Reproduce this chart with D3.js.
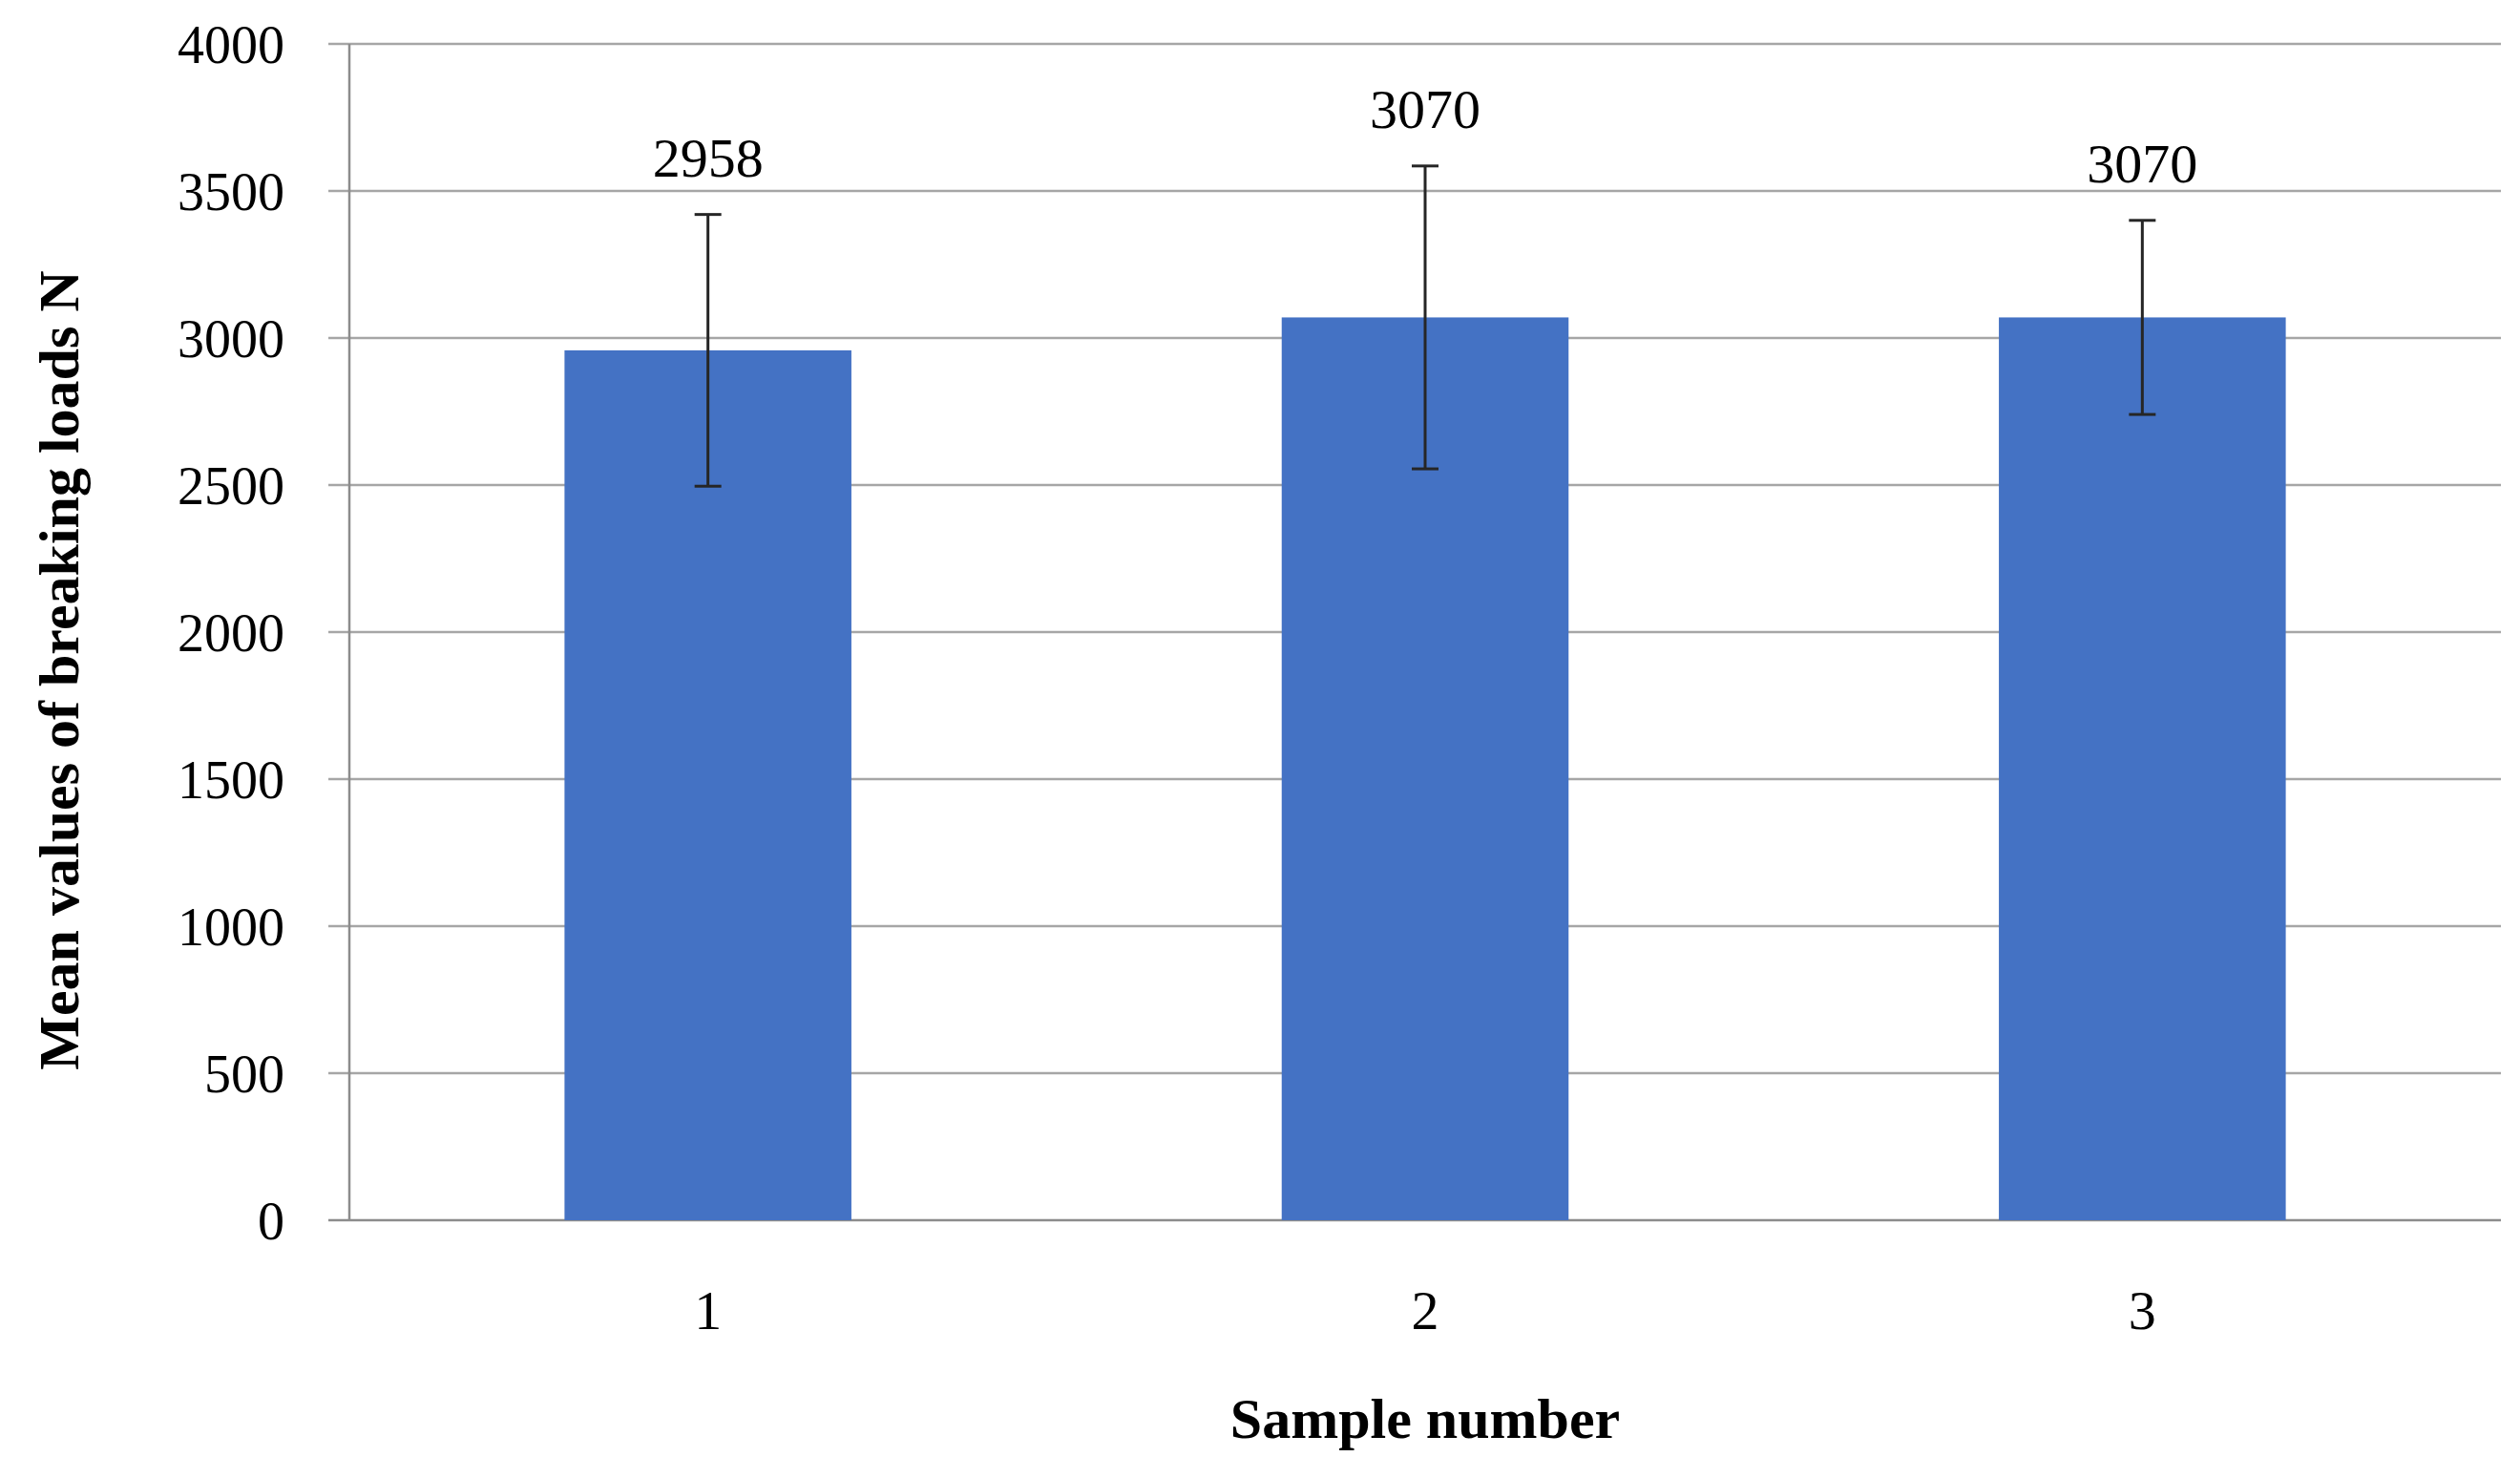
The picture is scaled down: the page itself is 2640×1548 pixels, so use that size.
<!DOCTYPE html>
<html><head><meta charset="utf-8">
<script src="https://cdn.jsdelivr.net/npm/d3@7"></script>
<style>body{margin:0;background:#fff}text{font-family:"Liberation Serif","DejaVu Serif",serif}</style>
</head><body><svg id="c" width="2640" height="1548"></svg>
<script>
const categories = ["1", "2", "3"];
const means = [2958, 3070, 3070];
const errors = [462, 515, 330];
const labels = ["2958", "3070", "3070"];
const yTicks = [0, 500, 1000, 1500, 2000, 2500, 3000, 3500, 4000];

const svg = d3.select('#c');
const m = {l: 366, r: 2620, t: 46, b: 1278};
const x = d3.scaleBand().domain(categories).range([m.l, m.r]).paddingInner(0.6).paddingOuter(0.3);
const y = d3.scaleLinear().domain([0, 4000]).range([m.b, m.t]);

// gridlines + ticks
svg.selectAll('line.grid').data(yTicks).join('line')
  .attr('x1', m.l - 22).attr('x2', m.r)
  .attr('y1', d => y(d)).attr('y2', d => y(d))
  .attr('stroke', d => d === 0 ? '#8c8c8c' : '#a6a6a6').attr('stroke-width', 2.5);
svg.append('line').attr('x1', m.l).attr('x2', m.l).attr('y1', m.t).attr('y2', m.b)
  .attr('stroke', '#8c8c8c').attr('stroke-width', 2.5);
svg.selectAll('text.yt').data(yTicks).join('text')
  .attr('x', 298).attr('y', d => y(d)).attr('dy', '0.35em')
  .attr('text-anchor', 'end').attr('font-size', 56).text(d => d);

// bars
svg.selectAll('rect.bar').data(means).join('rect')
  .attr('x', (d, i) => x(categories[i])).attr('width', x.bandwidth())
  .attr('y', d => y(d)).attr('height', d => y(0) - y(d)).attr('fill', '#4472C4');

// error bars
const eb = svg.selectAll('g.eb').data(means).join('g')
  .attr('transform', (d, i) => `translate(${x(categories[i]) + x.bandwidth() / 2},0)`)
  .attr('stroke', '#262626').attr('stroke-width', 3);
eb.append('line').attr('y1', (d, i) => y(d + errors[i])).attr('y2', (d, i) => y(d - errors[i]));
eb.append('line').attr('x1', -14).attr('x2', 14).attr('y1', (d, i) => y(d + errors[i])).attr('y2', (d, i) => y(d + errors[i]));
eb.append('line').attr('x1', -14).attr('x2', 14).attr('y1', (d, i) => y(d - errors[i])).attr('y2', (d, i) => y(d - errors[i]));

// value labels
svg.selectAll('text.vl').data(means).join('text')
  .attr('x', (d, i) => x(categories[i]) + x.bandwidth() / 2)
  .attr('y', (d, i) => y(d + errors[i]) - 40)
  .attr('text-anchor', 'middle').attr('font-size', 58).text((d, i) => labels[i]);

// x tick labels
svg.selectAll('text.xt').data(categories).join('text')
  .attr('x', d => x(d) + x.bandwidth() / 2).attr('y', 1392)
  .attr('text-anchor', 'middle').attr('font-size', 58).text(d => d);

// axis titles
svg.append('text').attr('x', (m.l + m.r) / 2).attr('y', 1506).attr('text-anchor', 'middle')
  .attr('font-size', 60).attr('font-weight', 'bold').text('Sample number');
svg.append('text').attr('transform', `translate(82,${(m.t + m.b) / 2 + 40}) rotate(-90)`)
  .attr('text-anchor', 'middle').attr('font-size', 60).attr('font-weight', 'bold')
  .text('Mean values of breaking loads N');
</script></body></html>
